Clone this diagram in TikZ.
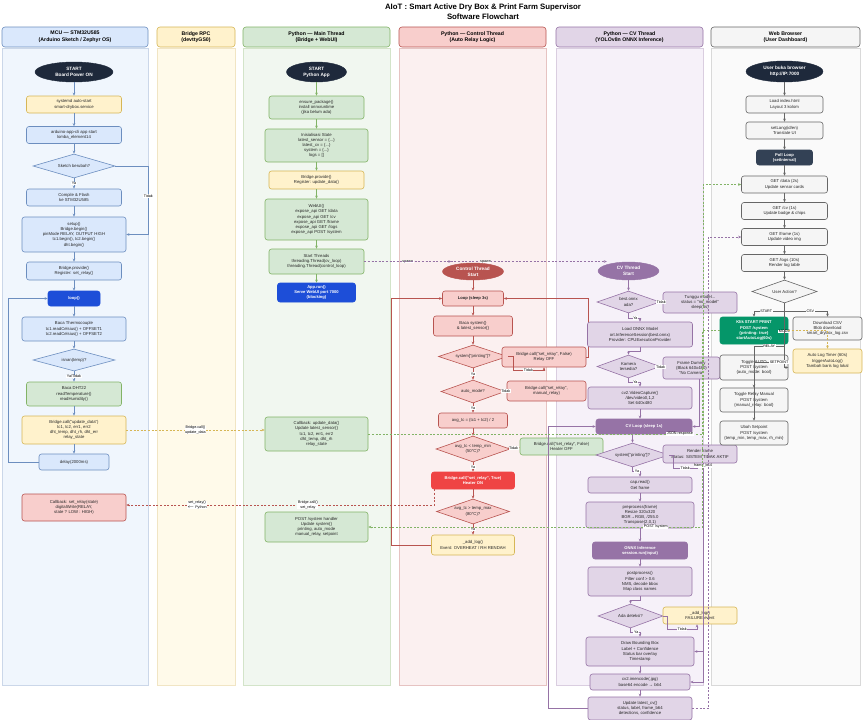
\documentclass[tikz,border=0pt]{standalone}
\usepackage{fontspec}
\setmainfont{Liberation Sans}
\usepackage{tikz}
\usetikzlibrary{arrows.meta,positioning,shapes.geometric,calc}
\definecolor{FillBlue}{HTML}{DAE8FC}
\definecolor{LineBlue}{HTML}{6C8EBF}
\definecolor{FillGold}{HTML}{FFF2CC}
\definecolor{LineGold}{HTML}{D6B656}
\definecolor{FillGreen}{HTML}{D5E8D4}
\definecolor{LineGreen}{HTML}{82B366}
\definecolor{FillRed}{HTML}{F8CECC}
\definecolor{LineRed}{HTML}{B85450}
\definecolor{FillPurple}{HTML}{E1D5E7}
\definecolor{LinePurple}{HTML}{9673A6}
\definecolor{FillGray}{HTML}{F5F5F5}
\definecolor{LineGray}{HTML}{666666}
\definecolor{DryNavy}{HTML}{1E293B}
\definecolor{DryBlue}{HTML}{1D4ED8}
\definecolor{DrySlate}{HTML}{334155}
\definecolor{DryGreen}{HTML}{059669}
\definecolor{HeatRed}{HTML}{EF4444}
\definecolor{LaneBlue}{HTML}{F0F6FD}
\definecolor{LaneGold}{HTML}{FFFAEA}
\definecolor{LaneGreen}{HTML}{F1F7F0}
\definecolor{LaneRed}{HTML}{FBF0F0}
\definecolor{LanePurple}{HTML}{F6F1F9}
\definecolor{LaneGray}{HTML}{FAFAFA}
\newcommand{\flowfont}{\fontsize{4.25}{5.2}\selectfont}
\newcommand{\boldflow}{\fontsize{4.1}{5.1}\selectfont\bfseries}
\newcommand{\startfont}{\fontsize{4.7}{5.7}\selectfont\bfseries}
\newcommand{\lblfont}{\fontsize{3.7}{4.3}\selectfont}
\newcommand{\hdrfont}{\fontsize{5.2}{6.6}\selectfont\bfseries}
\tikzset{
  sz/.style 2 args={minimum width=#1,minimum height=#2},
  base/.style={rounded corners=2.5pt,align=center,inner sep=1pt,font=\flowfont,line width=0.6pt,text=black!85},
  mcubox/.style={base,draw=LineBlue,fill=FillBlue},
  notebox/.style={base,draw=LineGold,fill=FillGold},
  mainbox/.style={base,draw=LineGreen,fill=FillGreen},
  ctlbox/.style={base,draw=LineRed,fill=FillRed},
  cvbox/.style={base,draw=LinePurple,fill=FillPurple},
  webbox/.style={base,draw=LineGray,fill=FillGray},
  darkbox/.style={base,font=\boldflow,text=white},
  startnode/.style={ellipse,inner sep=0pt,align=center,font=\startfont,text=white,fill=DryNavy,draw=DryNavy},
  decision/.style={diamond,aspect=3,inner sep=0pt,align=center,font=\flowfont,line width=0.6pt,text=black!85},
  hdr/.style={rounded corners=3pt,align=center,font=\hdrfont,line width=0.6pt,minimum height=20},
  lbl/.style={font=\lblfont,inner sep=0.6pt,fill=white,text=black,align=center},
  mcuarrow/.style={-{Stealth[length=3pt,width=2.6pt]},line width=0.6pt,draw=LineBlue},
  mainarrow/.style={-{Stealth[length=3pt,width=2.6pt]},line width=0.6pt,draw=LineGreen},
  ctlarrow/.style={-{Stealth[length=3pt,width=2.6pt]},line width=0.6pt,draw=LineRed},
  cvarrow/.style={-{Stealth[length=3pt,width=2.6pt]},line width=0.6pt,draw=LinePurple},
  webarrow/.style={-{Stealth[length=3pt,width=2.6pt]},line width=0.6pt,draw=LineGray},
  dashlink/.style={-{Stealth[length=3pt,width=2.6pt]},line width=0.7pt,dash pattern=on 2pt off 1.6pt}
}

\begin{document}
\begin{tikzpicture}[x=1pt,y=-1pt]
\useasboundingbox (0,0) rectangle (863,720);
\fill[white] (0,0) rectangle (863,720);

\node[font=\fontsize{7.8}{9}\selectfont\bfseries] (title) at (483,7) {AIoT : Smart Active Dry Box \& Print Farm Supervisor};
\node[font=\fontsize{7.8}{9}\selectfont\bfseries] (subtitle) at (483,17) {Software Flowchart};

\draw[LineBlue!35,fill=LaneBlue] (2,48) rectangle (148,685);
\draw[LineGold!35,fill=LaneGold] (157,48) rectangle (235,685);
\draw[LineGreen!35,fill=LaneGreen] (243,48) rectangle (390,685);
\draw[LineRed!35,fill=LaneRed] (399,48) rectangle (546,685);
\draw[LinePurple!35,fill=LanePurple] (556,48) rectangle (703,685);
\draw[LineGray!25,fill=LaneGray] (711,48) rectangle (860,685);

\node[hdr,fill=FillBlue,draw=LineBlue,minimum width=146] (hmcu) at (75,37) {MCU — STM32U585\\(Arduino Sketch / Zephyr OS)};
\node[hdr,fill=FillGold,draw=LineGold,minimum width=78] (hbridge) at (196,37) {Bridge RPC\\(devttyGS0)};
\node[hdr,fill=FillGreen,draw=LineGreen,minimum width=147] (hmain) at (316.5,37) {Python — Main Thread\\(Bridge + WebUI)};
\node[hdr,fill=FillRed,draw=LineRed,minimum width=147] (hctl) at (472.5,37) {Python — Control Thread\\(Auto Relay Logic)};
\node[hdr,fill=FillPurple,draw=LinePurple,minimum width=147] (hcv) at (629.5,37) {Python — CV Thread\\(YOLOv8n ONNX Inference)};
\node[hdr,fill=FillGray,draw=LineGray,minimum width=149] (hweb) at (785.5,37) {Web Browser\\(User Dashboard)};

% MCU
\node[startnode,sz={78}{20}] (mstart) at (74,72) {START\\Board Power ON};
\node[notebox,sz={95}{17}] (msysd) at (74,104.5) {systemd auto-start\\smart-drybox.service};
\node[mcubox,sz={95}{17}] (mcli) at (74,135) {arduino-app-cli app start\\lomba\_element14};
\node[decision,draw=LineBlue,fill=FillBlue,sz={82}{24}] (msketch) at (74,166) {Sketch berubah?};
\node[mcubox,sz={95}{17}] (mflash) at (74,197.5) {Compile \& Flash\\ke STM32U585};
\node[mcubox,sz={104}{35}] (msetup) at (74,234.5) {setup()\\Bridge.begin()\\pinMode RELAY, OUTPUT HIGH\\tc1.begin(), tc2.begin()\\dht.begin()};
\node[mcubox,sz={95}{18}] (mprovide) at (74,271) {Bridge.provide()\\Register: set\_relay()};
\node[darkbox,fill=DryBlue,draw=DryBlue,sz={52}{15}] (mloop) at (74,298.5) {loop()};
\node[mcubox,sz={104}{24}] (mthermo) at (74,329) {Baca Thermocouple\\tc1.readCelsius() + OFFSET1\\tc2.readCelsius() + OFFSET2};
\node[decision,draw=LineBlue,fill=FillBlue,sz={82}{22}] (misnan) at (74,360) {isnan(temp)?};
\node[mainbox,sz={95}{24}] (mdht) at (74,394) {Baca DHT22\\readTemperature()\\readHumidity()};
\node[notebox,sz={104}{28}] (mcall) at (74,430) {Bridge.call("update\_data")\\tc1, tc2, err1, err2\\dht\_temp, dht\_rh, dht\_err\\relay\_state};
\node[mcubox,sz={70}{16}] (mdelay) at (74,462) {delay(2000ms)};
\node[ctlbox,sz={104}{27}] (mrelay) at (74,507.5) {Callback: set\_relay(state)\\digitalWrite(RELAY,\\state ? LOW : HIGH)};

\draw[mcuarrow] (mstart) -- (msysd);
\draw[mcuarrow] (msysd) -- (mcli);
\draw[mcuarrow] (mcli) -- (msketch);
\draw[mcuarrow] (msketch) -- node[lbl]{Ya} (mflash);
\draw[mcuarrow] (msketch.east) -- ++(33,0) |- node[lbl,pos=0.22]{Tidak} (msetup.east);
\draw[mcuarrow] (mflash) -- (msetup);
\draw[mcuarrow] (msetup) -- (mprovide);
\draw[mcuarrow] (mprovide) -- (mloop);
\draw[mcuarrow] (mloop) -- (mthermo);
\draw[mcuarrow] (mthermo) -- (misnan);
\draw[mcuarrow] (misnan) -- node[lbl]{Ya/Tidak} (mdht);
\draw[mcuarrow] (mdht) -- (mcall);
\draw[mcuarrow] (mcall) -- (mdelay);
\draw[mcuarrow] (mdelay.west) -- ++(-30,0) |- (mloop.west);

% Python main thread
\node[startnode,sz={60}{20}] (pstart) at (316.5,72) {START\\Python App};
\node[mainbox,sz={95}{23}] (pensure) at (316.5,107.5) {ensure\_package()\\install onnxruntime\\(jika belum ada)};
\node[mainbox,sz={103}{33}] (pinit) at (316.5,145.5) {Inisialisasi State\\latest\_sensor = \{...\}\\latest\_cv = \{...\}\\system = \{...\}\\logs = []};
\node[notebox,sz={95}{18}] (pprovide) at (316.5,180) {Bridge.provide()\\Register: update\_data()};
\node[mainbox,sz={103}{41}] (pwebui) at (316.5,219.5) {WebUI()\\expose\_api GET /data\\expose\_api GET /cv\\expose\_api GET /frame\\expose\_api GET /logs\\expose\_api POST /system};
\node[mainbox,sz={95}{25}] (pthreads) at (316.5,261.5) {Start Threads\\threading.Thread(cv\_loop)\\threading.Thread(control\_loop)};
\node[darkbox,fill=DryBlue,draw=DryBlue,sz={78}{19}] (prun) at (316.5,292.5) {App.run()\\Serve WebUI port 7000\\(blocking)};
\node[mainbox,sz={103}{34}] (pcb) at (316.5,434) {Callback: update\_data()\\Update latest\_sensor\{\}\\tc1, tc2, err1, err2\\dht\_temp, dht\_rh\\relay\_state};
\node[mainbox,sz={103}{30}] (ppost) at (316.5,527) {POST /system handler\\Update system\{\}\\printing, auto\_mode\\manual\_relay, setpoint};

\draw[mainarrow] (pstart) -- (pensure);
\draw[mainarrow] (pensure) -- (pinit);
\draw[mainarrow] (pinit) -- (pprovide);
\draw[mainarrow] (pprovide) -- (pwebui);
\draw[mainarrow] (pwebui) -- (pthreads);
\draw[mainarrow] (pthreads) -- (prun);

% Python control thread
\node[startnode,fill=LineRed,draw=LineRed,sz={61}{17}] (cstart) at (473,271.5) {Control Thread\\Start};
\node[ctlbox,font=\boldflow,sz={61}{15}] (cloop) at (473,298.5) {Loop (sleep 3s)};
\node[ctlbox,sz={79}{20}] (cread) at (473,326) {Baca system\{\}\\\& latest\_sensor\{\}};
\node[decision,draw=LineRed,fill=FillRed,sz={69}{23}] (cprint) at (473,356.5) {system["printing"]?};
\node[ctlbox,sz={84}{20}] (coff) at (544,357) {Bridge.call("set\_relay", False)\\Relay OFF};
\node[decision,draw=LineRed,fill=FillRed,sz={64}{23}] (cauto) at (473,391.5) {auto\_mode?};
\node[ctlbox,sz={79}{20}] (cmanual) at (546.5,391) {Bridge.call("set\_relay",\\manual\_relay)};
\node[ctlbox,sz={69}{15}] (cavg) at (473,420.5) {avg\_tc = (tc1 + tc2) / 2};
\node[decision,draw=LineRed,fill=FillRed,sz={74}{26}] (cmin) at (473,449) {avg\_tc < temp\_min\\(50°C)?};
\node[mainbox,sz={83}{17}] (cheatoff) at (561.5,446.5) {Bridge.call("set\_relay", False)\\Heater OFF};
\node[darkbox,fill=HeatRed,draw=HeatRed,sz={83}{17}] (cheaton) at (473,480.5) {Bridge.call("set\_relay", True)\\Heater ON};
\node[decision,draw=LineRed,fill=FillRed,sz={73}{25}] (cmax) at (473,511.5) {avg\_tc > temp\_max\\(80°C)?};
\node[notebox,sz={83}{20}] (clog) at (473,545) {\_add\_log()\\Event: OVERHEAT / RH RENDAH};

\draw[ctlarrow] (cstart) -- (cloop);
\draw[ctlarrow] (cloop) -- (cread);
\draw[ctlarrow] (cread) -- (cprint);
\draw[ctlarrow] (cprint.east) -- ++(5,0) |- node[lbl,pos=0.75]{Tidak} ($(coff.south)+(0,3)$) -- (coff.south);
\draw[ctlarrow] (coff.east) -- ++(1.5,0) |- (cloop.east);
\draw[ctlarrow] (cprint) -- node[lbl]{Ya} (cauto);
\draw[ctlarrow] (cauto) -- node[lbl]{Tidak} (cmanual);
\draw[ctlarrow] (cauto) -- node[lbl]{Ya} (cavg);
\draw[ctlarrow] (cavg) -- (cmin);
\draw[ctlarrow] (cmin) -- node[lbl]{Tidak} (cheatoff);
\draw[ctlarrow] (cmin) -- node[lbl]{Ya} (cheaton);
\draw[ctlarrow] (cheaton) -- (cmax);
\draw[ctlarrow] (cmax) -- node[lbl]{Ya} (clog);
\draw[ctlarrow] (clog.west) -- ++(-40,0) |- (cloop.west);

% Python CV thread
\node[startnode,fill=LinePurple,draw=LinePurple,sz={61}{18}] (vstart) at (628.5,271) {CV Thread\\Start};
\node[decision,draw=LinePurple,fill=FillPurple,sz={63}{22}] (vmodel) at (628.5,302) {best.onnx\\ada?};
\node[cvbox,sz={74}{21}] (vwait) at (700,302.5) {Tunggu model...\\status = "no\_model"\\sleep(5s)};
\node[cvbox,sz={105}{25}] (vload) at (640,334.5) {Load ONNX Model\\ort.InferenceSession(best.onnx)\\Provider: CPUExecutionProvider};
\node[decision,draw=LinePurple,fill=FillPurple,sz={63}{23}] (vcam) at (628.5,366.5) {Kamera\\tersedia?};
\node[cvbox,sz={57}{22}] (vdummy) at (691.5,368) {Frame Dummy\\(Black 640x480)\\"No Camera"};
\node[cvbox,sz={104}{22}] (vcap) at (640,398) {cv2.VideoCapture()\\/dev/video0,1,2\\Set 640x480};
\node[darkbox,fill=LinePurple,draw=LinePurple,sz={96}{15}] (vloop) at (644,426.5) {CV Loop (sleep 1s)};
\node[decision,draw=LinePurple,fill=FillPurple,sz={73}{24}] (vprint) at (632.5,455) {system["printing"]?};
\node[cvbox,sz={74}{18}] (vrender) at (700,454) {Render frame\\Status: SISTEM TIDAK AKTIF};
\node[cvbox,sz={104}{16}] (vread) at (640,485) {cap.read()\\Get frame};
\node[cvbox,sz={108}{26}] (vpre) at (640,515) {preprocess(frame)\\Resize 320x320\\BGR→RGB, /255.0\\Transpose(2,0,1)};
\node[darkbox,fill=LinePurple,draw=LinePurple,sz={95}{17}] (vonnx) at (640,550.5) {ONNX Inference\\session.run(input)};
\node[cvbox,sz={104}{29}] (vpost) at (640,581.5) {postprocess()\\Filter conf > 0.6\\NMS, decode bbox\\Map class names};
\node[decision,draw=LinePurple,fill=FillPurple,sz={65}{24}] (vdet) at (630.5,616) {Ada deteksi?};
\node[notebox,sz={74}{17}] (vfail) at (700,615.5) {\_add\_log()\\FAILURE event};
\node[cvbox,sz={108}{29}] (vdraw) at (640,651.5) {Draw Bounding Box\\Label + Confidence\\Status bar overlay\\Timestamp};
\node[cvbox,sz={100}{16}] (venc) at (640,682) {cv2.imencode(.jpg)\\base64 encode → b64};
\node[cvbox,sz={104}{23}] (vupd) at (640,708.5) {Update latest\_cv\{\}\\status, label, frame\_b64\\detections, confidence};

\draw[cvarrow] (vstart) -- (vmodel);
\draw[cvarrow] (vmodel) -- node[lbl]{Tidak} (vwait);
\draw[cvarrow] (vmodel.south) -- ++(0,5) -| node[lbl,pos=0.3]{Ya} (vload.north);
\draw[cvarrow] (vload.south) -- ++(0,4) -| (vcam.north);
\draw[cvarrow] (vcam) -- node[lbl]{Tidak} (vdummy);
\draw[cvarrow] (vcam.south) -- ++(0,4) -| node[lbl,pos=0.3]{Ya} (vcap.north);
\draw[cvarrow] (vcap.south) -- (vcap.south |- vloop.north);
\draw[cvarrow] ([xshift=7.5pt]vdummy.south) |- (vloop.east);
\draw[cvarrow] (vloop.south -| vprint.north) -- (vprint.north);
\draw[cvarrow] (vprint.east) -- ++(4,0) |- node[lbl,pos=0.75]{Tidak} ($(vrender.south)+(-3,5)$) -- ++(0,-5);
\draw[cvarrow] (vprint.south) -- ++(0,4) -| node[lbl,pos=0.3]{Ya} (vread.north);
\draw[cvarrow] (vread) -- (vpre);
\draw[cvarrow] (vpre) -- (vonnx);
\draw[cvarrow] (vonnx) -- (vpost);
\draw[cvarrow] (vpost.south) -- ++(0,4) -| (vdet.north);
\draw[cvarrow] (vdet.east) -- ++(4,0) |- node[lbl,pos=0.75]{Tidak} ($(vfail.south)+(-3,5)$) -- ++(0,-5);
\draw[cvarrow] (vdet.south) -- ++(0,4) -| node[lbl,pos=0.3]{Ya} (vdraw.north);
\draw[cvarrow] ([xshift=3pt]vfail.south) |- (vdraw.east);
\draw[cvarrow] ([xshift=3pt]vrender.south) |- node[lbl,pos=0,anchor=north]{frame\_b64} (venc.east);
\draw[cvarrow] (vdraw) -- (venc);
\draw[cvarrow] (venc) -- (vupd);
\draw[cvarrow] (vupd.west) -- ++(-39,0) |- (vloop.west);

% Web browser
\node[startnode,sz={77}{21}] (wstart) at (784.5,71.5) {User buka browser\\http://IP:7000};
\node[webbox,sz={77}{17}] (wload) at (784.5,104.5) {Load index.html\\Layout 3 kolom};
\node[webbox,sz={77}{17}] (wlang) at (784.5,130.5) {setLang(id/en)\\Translate UI};
\node[darkbox,fill=DrySlate,draw=DrySlate,sz={56}{15}] (wpoll) at (784.5,157.5) {Poll Loop\\(setInterval)};
\node[webbox,sz={86}{17}] (wdata) at (784.5,184.5) {GET /data (2s)\\Update sensor cards};
\node[webbox,sz={86}{17}] (wcv) at (784.5,211) {GET /cv (1s)\\Update badge \& chips};
\node[webbox,sz={86}{17}] (wframe) at (784.5,237) {GET /frame (1s)\\Update video img};
\node[webbox,sz={86}{17}] (wlogs) at (784.5,263) {GET /logs (10s)\\Render log table};
\node[decision,draw=LineGray,fill=FillGray,sz={65}{23}] (wact) at (784.5,291.5) {User Action?};
\node[darkbox,fill=DryGreen,draw=DryGreen,sz={68}{27}] (wprint) at (754,330.5) {Klik START PRINT\\POST /system\\\{printing: true\}\\startAutoLog(60s)};
\node[webbox,sz={69}{23}] (wcsv) at (827.5,328.5) {Download CSV\\Blob download\\smart\_drybox\_log.csv};
\node[notebox,sz={69}{24}] (wtimer) at (827.5,361) {Auto Log Timer (60s)\\triggerAutoLog()\\Tambah baris log lokal};
\node[webbox,sz={68}{25}] (wauto) at (754,367.5) {Toggle AUTO\\POST /system\\\{auto\_mode: bool\}};
\node[webbox,sz={68}{24}] (wrelay) at (754,400) {Toggle Relay Manual\\POST /system\\\{manual\_relay: bool\}};
\node[webbox,sz={68}{24}] (wsetp) at (754,433) {Ubah Setpoint\\POST /system\\\{temp\_min, temp\_max, rh\_min\}};

\draw[webarrow] (wstart) -- (wload);
\draw[webarrow] (wload) -- (wlang);
\draw[webarrow] (wlang) -- (wpoll);
\draw[webarrow] (wpoll) -- (wdata);
\draw[webarrow] (wdata) -- (wcv);
\draw[webarrow] (wcv) -- (wframe);
\draw[webarrow] (wframe) -- (wlogs);
\draw[webarrow] (wlogs) -- (wact);
\draw[webarrow] (wact.south) -- ++(0,8) -| node[lbl,pos=0.3]{START} (wprint.north);
\draw[webarrow] (wact.south) -- ++(0,8) -| node[lbl,pos=0.3]{CSV} (wcsv.north);
\draw[webarrow] (wact.south) |- node[lbl,pos=0.22]{MODE} (wauto.east);
\draw[webarrow] (wact.south) -- ++(0,43) -| node[lbl,pos=0.25]{RELAY} (wrelay.north);
\draw[webarrow] (wact.south) -- ++(0,59) -| node[lbl,pos=0.09]{SETPOINT} (wsetp.north);
\draw[dashlink,draw=LineGold] (wprint.east) -| (wtimer.north);

% links between lanes
\draw[dashlink,draw=LineGold] (mcall.east) -- node[lbl]{Bridge.call()\\update\_data} (mcall.east -| pcb.west);
\draw[dashlink,draw=LineGreen] (pcb.east) -- node[lbl,pos=0.93]{JSON response} ++(335,0) |- (wdata.west);
\draw[dashlink,draw=LineGreen] (wprint.west) -- ++(-17,0) |- node[lbl,pos=0.57]{POST /system} (ppost.east);
\draw[dashlink,draw=LineRed] ([xshift=3pt]cheaton.south west) |- node[lbl,pos=0.705]{Bridge.call()\\set\_relay} node[lbl,pos=0.885]{set\_relay()\\$\leftarrow$ Python} ([yshift=2.5pt]mrelay.east);
\draw[dashlink,draw=LinePurple] (pthreads.east) -- node[lbl]{spawn} (pthreads.east -| cstart.north west);
\draw[dashlink,draw=LinePurple] (pthreads.east) -- node[lbl]{spawn} (pthreads.east -| vstart.north west);
\draw[dashlink,draw=LinePurple] (vupd.east) -- ++(16,0) |- (wframe.west);
\end{tikzpicture}
\end{document}
